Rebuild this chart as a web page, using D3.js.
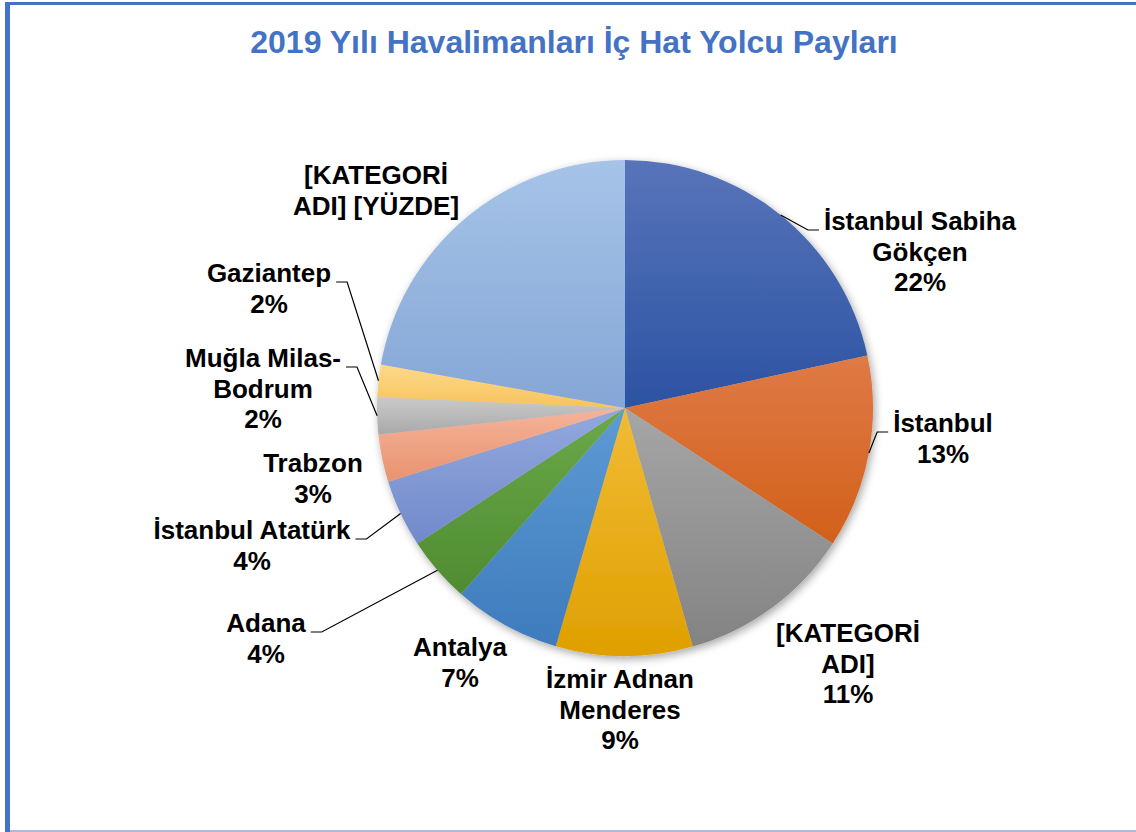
<!DOCTYPE html>
<html>
<head>
<meta charset="utf-8">
<script src="https://cdn.jsdelivr.net/npm/d3@7"></script>
<style>
  body { margin: 0; background: #fff; }
  svg { display: block; }
</style>
</head>
<body>
<script>
// chart data
var categories = ["İstanbul Sabiha\nGökçen", "İstanbul", "[KATEGORİ\nADI]", "İzmir Adnan\nMenderes", "Antalya", "Adana",
  "İstanbul Atatürk", "Trabzon", "Muğla Milas-\nBodrum", "Gaziantep", "[KATEGORİ\nADI] [YÜZDE]"];
var shares = [21.6, 12.6, 11.4, 8.9, 7.0, 4.3, 4.4, 3.1, 2.4, 2.1, 22.2];
var showPercent = [true, true, true, true, true, true, true, true, true, true, false];

// gradient colours for each slice (top, bottom)
var colorsTop = ["#5874ba", "#df7a46", "#a6a6a6", "#f1bb35", "#5e9bd4", "#6ba94a",
  "#93a9dd", "#f5b39a", "#cacaca", "#fdd98b", "#a6c4e8"];
var colorsBottom = ["#2c53a2", "#d2601a", "#838383", "#dfa000", "#3e7bbd", "#4f8b31",
  "#7189cb", "#e8936f", "#a9a9a9", "#f7c35c", "#85a6d6"];

// label layout: center x, first baseline, leader line or not
var labelLayout = [
  {x: 920, y: 230, leader: true},
  {x: 943, y: 432, leader: true},
  {x: 848, y: 642, leader: false},
  {x: 620, y: 688, leader: false},
  {x: 460, y: 656, leader: false},
  {x: 266, y: 632, leader: true},
  {x: 252, y: 539, leader: true},
  {x: 313, y: 472, leader: false},
  {x: 263, y: 367, leader: true},
  {x: 269, y: 282, leader: true},
  {x: 376, y: 184, leader: false}
];

var width = 1136, height = 832;
var cx = 625, cy = 408, radius = 248;
var lineH = 30.5;

var svg = d3.select("body").append("svg")
  .attr("width", width)
  .attr("height", height);

var defs = svg.append("defs");

// soft shadow under the pie
var shadow = defs.append("filter").attr("id", "shadow")
  .attr("x", "-10%").attr("y", "-10%").attr("width", "125%").attr("height", "125%");
shadow.append("feDropShadow")
  .attr("dx", 2).attr("dy", 3).attr("stdDeviation", 4)
  .attr("flood-color", "#000").attr("flood-opacity", 0.35);

// gradient per slice, lighter at the top
colorsTop.forEach(function(c, i) {
  var g = defs.append("linearGradient").attr("id", "grad" + i)
    .attr("x1", 0).attr("y1", 0).attr("x2", 0).attr("y2", 1);
  g.append("stop").attr("offset", "0%").attr("stop-color", c);
  g.append("stop").attr("offset", "100%").attr("stop-color", colorsBottom[i]);
});

// frame
svg.append("line").attr("x1", 7.5).attr("x2", 7.5).attr("y1", 2).attr("y2", 832)
  .attr("stroke", "#4472c4").attr("stroke-width", 5);
svg.append("line").attr("x1", 5).attr("x2", 1136).attr("y1", 3.5).attr("y2", 3.5)
  .attr("stroke", "#4472c4").attr("stroke-width", 3);
svg.append("line").attr("x1", 10).attr("x2", 1136).attr("y1", 831).attr("y2", 831)
  .attr("stroke", "#a9bbe3").attr("stroke-width", 2);

// title
svg.append("text")
  .attr("x", 574).attr("y", 53)
  .attr("text-anchor", "middle")
  .attr("font-family", "Liberation Sans, Arial, sans-serif")
  .attr("font-weight", "bold")
  .attr("font-size", 32)
  .attr("fill", "#4472c4")
  .text("2019 Yılı Havalimanları İç Hat Yolcu Payları");

var pie = d3.pie().sort(null).value(function(d) { return d; });
var arcs = pie(shares);
var total = d3.sum(shares);
var arc = d3.arc().innerRadius(0).outerRadius(radius);

var pieG = svg.append("g")
  .attr("transform", "translate(" + cx + "," + cy + ")")
  .attr("filter", "url(#shadow)");

pieG.selectAll("path")
  .data(arcs)
  .enter()
  .append("path")
  .attr("d", arc)
  .attr("fill", function(d, i) { return "url(#grad" + i + ")"; });

// labels
var fmt = d3.format(".0%");
var labelG = svg.append("g")
  .attr("font-family", "Liberation Sans, Arial, sans-serif")
  .attr("font-weight", "bold")
  .attr("font-size", 26)
  .attr("fill", "#000");

arcs.forEach(function(a, i) {
  var lay = labelLayout[i];
  var lines = categories[i].split("\n");
  if (showPercent[i]) lines.push(fmt(a.value / total));
  var t = labelG.append("text").attr("text-anchor", "middle");
  lines.forEach(function(l, j) {
    t.append("tspan").attr("x", lay.x).attr("y", lay.y + j * lineH).text(l);
  });
  if (!lay.leader) return;
  // leader from the arc edge at the slice middle to the first line
  var mid = (a.startAngle + a.endAngle) / 2;
  var sx = cx + radius * Math.sin(mid);
  var sy = cy - radius * Math.cos(mid);
  var w = t.select("tspan").node().getComputedTextLength();
  var right = sx > cx;
  var edge = right ? lay.x - w / 2 - 5 : lay.x + w / 2 + 5;
  var elbow = right ? edge - 11 : edge + 11;
  svg.append("polyline")
    .attr("points", [[sx, sy], [elbow, lay.y], [edge, lay.y]].join(" "))
    .attr("fill", "none")
    .attr("stroke", "#000")
    .attr("stroke-width", 1.2);
});
</script>
</body>
</html>
